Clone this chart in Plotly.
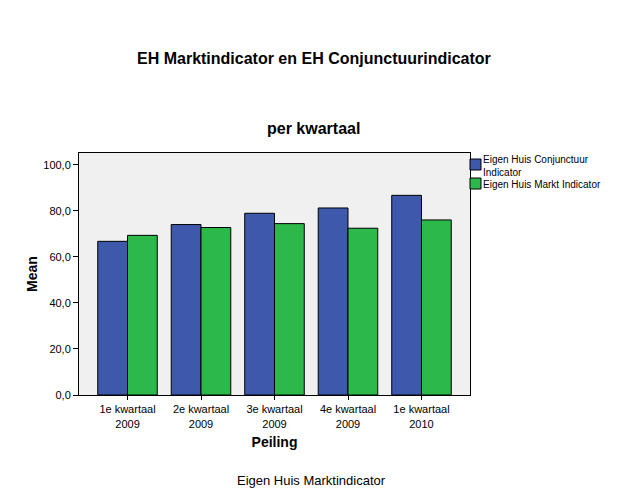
import plotly.graph_objects as go

quarters = ["1e kwartaal", "2e kwartaal", "3e kwartaal", "4e kwartaal", "1e kwartaal"]
years = ["2009", "2009", "2009", "2009", "2010"]
conjunctuur = [66.8, 74.1, 79.0, 81.3, 86.8]
markt = [69.4, 72.8, 74.5, 72.5, 76.1]
series_names = ["Eigen Huis Conjunctuur Indicator", "Eigen Huis Markt Indicator"]
ytick_vals = [0, 20, 40, 60, 80, 100]
ytick_text = ["0,0", "20,0", "40,0", "60,0", "80,0", "100,0"]

FONT = "Liberation Sans, Arial, sans-serif"
BLUE = "#3E58AC"
GREEN = "#2DB84A"

# page body has an 8px margin: work in figure coords = screen - 8
OFF = 8
W, H = 627 - 2 * OFF, 502 - 2 * OFF
L, T, R, B = 79 - OFF, 153 - OFF, 470 - OFF, 395 - OFF
pw, ph = R - L, B - T


def px(x):
    return (x - OFF - L) / pw


def py(y):
    return (B - (y - OFF)) / ph


xs = list(range(len(quarters)))
cat_labels = [f"{q}<br>{y}" for q, y in zip(quarters, years)]

fig = go.Figure()
fig.add_trace(go.Bar(x=xs, y=conjunctuur, name=series_names[0],
                     marker=dict(color=BLUE, line=dict(color="black", width=1))))
fig.add_trace(go.Bar(x=xs, y=markt, name=series_names[1],
                     marker=dict(color=GREEN, line=dict(color="black", width=1))))

fig.update_layout(
    width=W, height=H,
    paper_bgcolor="white", plot_bgcolor="#F0F0F0",
    barmode="group", bargap=0.19, bargroupgap=0,
    margin=dict(l=L, r=W - R, t=T, b=H - B, autoexpand=False),
    font=dict(family=FONT, size=11, color="black"),
    showlegend=False,
)


def ann(text, x, y, size, xanchor="center", yanchor="middle", xref="paper"):
    fig.add_annotation(text=text, x=x, y=y, xref=xref, yref="paper", showarrow=False,
                       xanchor=xanchor, yanchor=yanchor, align="left",
                       font=dict(size=size, family=FONT), borderpad=0)


ann("<b>EH Marktindicator en EH Conjunctuurindicator</b>", px(314), py(58), 16)
ann("<b>per kwartaal</b>", px(313), py(128), 16)
ann("Eigen Huis Marktindicator", px(311), py(480), 13)

# legend (drawn manually to match SPSS layout)
fig.add_shape(type="rect", xref="paper", yref="paper",
              x0=px(470), x1=px(481), y0=py(170), y1=py(159),
              fillcolor=BLUE, line=dict(color="black", width=1))
fig.add_shape(type="rect", xref="paper", yref="paper",
              x0=px(470), x1=px(481), y0=py(189), y1=py(178),
              fillcolor=GREEN, line=dict(color="black", width=1))
ann("Eigen Huis Conjunctuur<br>Indicator", px(482), py(166), 10, xanchor="left")
ann(series_names[1], px(482), py(184), 10, xanchor="left")

fig.update_xaxes(range=[-0.66, 4.66], tickvals=xs, ticktext=cat_labels,
                 ticks="outside", ticklen=4, tickcolor="black", showline=True, linecolor="black",
                 mirror=True, showgrid=False, zeroline=False, tickfont=dict(size=11),
                 title=dict(text="<b>Peiling</b>", font=dict(size=14), standoff=8))
fig.update_yaxes(range=[0, 105.2], tickvals=ytick_vals, ticktext=ytick_text,
                 ticks="outside", ticklen=5, tickcolor="black", showline=True, linecolor="black",
                 mirror=True, showgrid=False, zeroline=False, tickfont=dict(size=11),
                 title=dict(text="<b>Mean</b>", font=dict(size=14), standoff=2))

fig.write_html("out.html")
